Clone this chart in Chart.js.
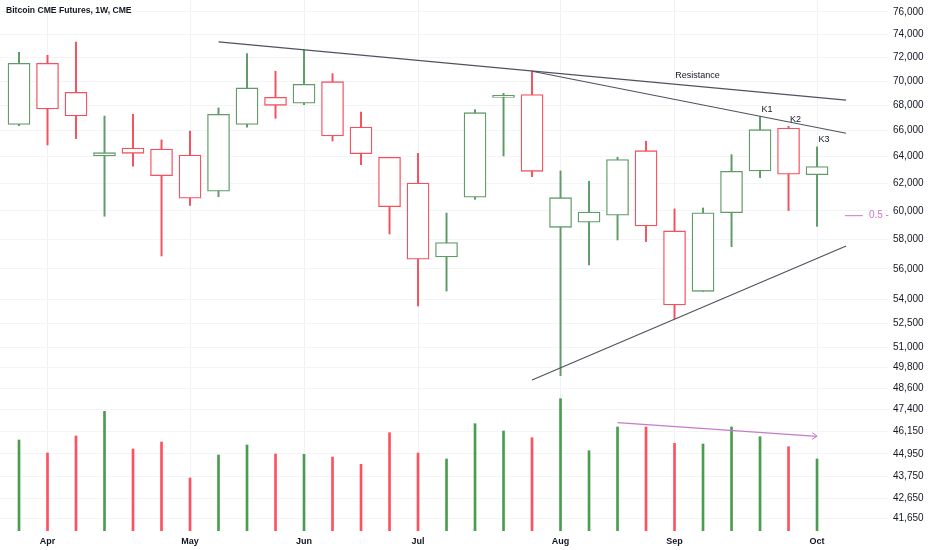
<!DOCTYPE html>
<html>
<head>
<meta charset="utf-8">
<script src="https://cdn.jsdelivr.net/npm/chart.js@4.4.1/dist/chart.umd.min.js"></script>
<style>
  html, body { margin: 0; padding: 0; background: #ffffff; }
  #wrap { width: 932px; height: 550px; }
</style>
</head>
<body>
<div id="wrap"><canvas id="btcChart" width="932" height="550"></canvas></div>
<script>
const chartTitle = 'Bitcoin CME Futures, 1W, CME';

// weekly bars, Monday of each week
const weeks = [
  '2024-03-25', '2024-04-01', '2024-04-08', '2024-04-15', '2024-04-22', '2024-04-29',
  '2024-05-06', '2024-05-13', '2024-05-20', '2024-05-27', '2024-06-03', '2024-06-10',
  '2024-06-17', '2024-06-24', '2024-07-01', '2024-07-08', '2024-07-15', '2024-07-22',
  '2024-07-29', '2024-08-05', '2024-08-12', '2024-08-19', '2024-08-26', '2024-09-02',
  '2024-09-09', '2024-09-16', '2024-09-23', '2024-09-30', '2024-10-07',
];
const opens = [66500, 71500, 69080, 64050, 64660, 64580, 64120, 61420, 66500, 68670, 68190, 69960, 66290, 63950, 62020,
  56800, 60980, 68670, 68890, 58840, 59200, 59690, 64450, 58590, 54530, 59870, 62920, 66210, 62640];
const highs = [72450, 72190, 73340, 67160, 67300, 65280, 65980, 67810, 72330, 70830, 72640, 70630, 67480, 63950, 64250,
  59850, 67670, 69000, 70830, 62920, 62150, 63950, 65180, 60140, 60210, 64150, 67110, 66350, 64740];
const lows = [66400, 64890, 65380, 59620, 63270, 56870, 60400, 61020, 66270, 66980, 68070, 65200, 63390, 58380, 53590,
  54550, 60830, 64050, 62490, 49330, 56270, 57960, 57850, 52770, 54530, 57500, 62420, 60020, 58910];
const closes = [71500, 67730, 67160, 64300, 64250, 62570, 60910, 67300, 69440, 68020, 69740, 65590, 64220, 60300, 56650,
  57780, 67430, 68720, 62890, 60950, 59920, 63770, 58940, 53650, 59870, 62890, 66080, 62670, 63240];
const volumes = [9100, 7800, 9500, 11970, 8200, 8900, 5300, 7600, 8600, 7700, 7670, 7400, 6670, 9830, 7800,
  7200, 10730, 10000, 9330, 13230, 8030, 10400, 10400, 8770, 8700, 10400, 9430, 8430, 7200];

const priceTicks = [76000, 74000, 72000, 70000, 68000, 66000, 64000, 62000, 60000, 58000, 56000, 54000,
  52500, 51000, 49800, 48600, 47400, 46150, 44950, 43750, 42650, 41650];
const monthNames = ['Jan', 'Feb', 'Mar', 'Apr', 'May', 'Jun', 'Jul', 'Aug', 'Sep', 'Oct', 'Nov', 'Dec'];

// drawings, in [bar index, price] / [bar index, volume]
const upperResistance = [[7, 73340], [29.02, 68450]];
const lowerResistance = [[18, 70830], [29.02, 65800]];
const supportLine = [[18, 49080], [29.02, 57550]];
const volumeTrend = [[21, 10830], [28, 9470]];
const resistanceLabel = [23.81, 70490];
const fibLevel = 59660;
const fibSpan = [28.98, 29.61];
const markedBars = [[26, 'K1'], [27, 'K2'], [28, 'K3']];

const GREEN = '#5f9a68';
const RED = '#f5505e';
const VOL_GREEN = '#4a9c4f';
const VOL_RED = '#ff5060';
const PURPLE = '#c67bc9';
const TEXT = '#131722';

const isUp = opens.map((o, i) => closes[i] >= o);
const idx = weeks.map((w, i) => i);

const monthTicks = [];
weeks.forEach((w, i) => {
  if (i > 0 && w.slice(5, 7) !== weeks[i - 1].slice(5, 7)) {
    monthTicks.push({ value: i, label: monthNames[parseInt(w.slice(5, 7), 10) - 1] });
  }
});

const fmt = (n) => String(n).replace(/\B(?=(\d{3})+(?!\d))/g, ',');
const toPts = (arr) => arr.map(([x, y]) => ({ x, y }));

const drawings = {
  id: 'drawings',
  afterDatasetsDraw(chart) {
    const { ctx, scales } = chart;
    const x = scales.x, y = scales.y, vol = scales.vol;
    ctx.save();
    ctx.textBaseline = 'middle';

    ctx.fillStyle = TEXT;
    ctx.font = 'bold 8.6px "Liberation Sans", Arial, sans-serif';
    ctx.textAlign = 'left';
    ctx.fillText(chartTitle, 6, 11);

    ctx.font = '9px "Liberation Sans", Arial, sans-serif';
    ctx.textAlign = 'center';
    ctx.fillText('Resistance', x.getPixelForValue(resistanceLabel[0]), y.getPixelForValue(resistanceLabel[1]));
    markedBars.forEach(([i, txt]) => {
      ctx.fillText(txt, x.getPixelForValue(i) + 7, y.getPixelForValue(highs[i]) - 7);
    });

    // fib level stub
    const fy = y.getPixelForValue(fibLevel);
    ctx.strokeStyle = PURPLE;
    ctx.lineWidth = 1;
    ctx.beginPath();
    ctx.moveTo(x.getPixelForValue(fibSpan[0]), fy);
    ctx.lineTo(x.getPixelForValue(fibSpan[1]), fy);
    ctx.stroke();
    ctx.fillStyle = PURPLE;
    ctx.font = '10px "Liberation Sans", Arial, sans-serif';
    ctx.textAlign = 'left';
    ctx.fillText('0.5 -', x.getPixelForValue(fibSpan[1]) + 6, fy);

    // arrow head on the volume trend
    const [a, b] = volumeTrend;
    const x1 = x.getPixelForValue(a[0]), y1 = vol.getPixelForValue(a[1]);
    const x2 = x.getPixelForValue(b[0]), y2 = vol.getPixelForValue(b[1]);
    const ang = Math.atan2(y2 - y1, x2 - x1);
    ctx.beginPath();
    ctx.moveTo(x2 - 6 * Math.cos(ang - 0.6), y2 - 6 * Math.sin(ang - 0.6));
    ctx.lineTo(x2, y2);
    ctx.lineTo(x2 - 6 * Math.cos(ang + 0.6), y2 - 6 * Math.sin(ang + 0.6));
    ctx.stroke();
    ctx.restore();
  },
};

const lineDs = (pts, color, axis) => ({
  type: 'line',
  data: toPts(pts),
  yAxisID: axis,
  borderColor: color,
  borderWidth: 1.2,
  pointRadius: 0,
  order: -1,
});

new Chart(document.getElementById('btcChart'), {
  type: 'bar',
  data: {
    datasets: [
      {
        data: idx.map((i) => ({ x: i, y: [opens[i], closes[i]] })),
        yAxisID: 'y',
        backgroundColor: '#ffffff',
        borderColor: idx.map((i) => (isUp[i] ? GREEN : RED)),
        borderWidth: 1.3,
        borderSkipped: false,
        barThickness: 22,
        minBarLength: 2,
        grouped: false,
        order: 0,
      },
      {
        data: idx.map((i) => ({ x: i, y: [lows[i], highs[i]] })),
        yAxisID: 'y',
        backgroundColor: idx.map((i) => (isUp[i] ? GREEN : RED)),
        borderWidth: 0,
        barThickness: 1.3,
        grouped: false,
        order: 1,
      },
      {
        data: idx.map((i) => ({ x: i, y: volumes[i] })),
        yAxisID: 'vol',
        backgroundColor: idx.map((i) => (isUp[i] ? VOL_GREEN : VOL_RED)),
        borderWidth: 0,
        barThickness: 2,
        grouped: false,
        order: 2,
      },
      lineDs(upperResistance, '#50535e', 'y'),
      lineDs(lowerResistance, '#50535e', 'y'),
      lineDs(supportLine, '#50535e', 'y'),
      lineDs(volumeTrend, PURPLE, 'vol'),
    ],
  },
  options: {
    responsive: false,
    animation: false,
    layout: { padding: 0 },
    plugins: { legend: { display: false }, tooltip: { enabled: false } },
    scales: {
      x: {
        type: 'linear',
        offset: false,
        min: -0.667,
        max: 30.49,
        border: { display: false },
        grid: { color: '#f0f1f3', drawTicks: false, offset: false },
        ticks: {
          autoSkip: false,
          maxRotation: 0,
          padding: 5,
          color: TEXT,
          font: { family: '"Liberation Sans", Arial, sans-serif', size: 9, weight: 'bold' },
          callback: (v, i) => (monthTicks[i] ? monthTicks[i].label : ''),
        },
        afterBuildTicks: (axis) => { axis.ticks = monthTicks.map((t) => ({ value: t.value })); },
        afterFit: (axis) => { axis.height = 19; axis.paddingLeft = 0; axis.paddingRight = 0; },
      },
      y: {
        type: 'logarithmic',
        position: 'right',
        min: 41015,
        max: 77091,
        border: { display: false },
        grid: { color: '#f3f4f6', drawTicks: false },
        ticks: {
          autoSkip: false,
          padding: 5,
          color: TEXT,
          font: { family: '"Liberation Sans", Arial, sans-serif', size: 10 },
          callback: (v) => fmt(v),
        },
        afterBuildTicks: (axis) => { axis.ticks = priceTicks.map((v) => ({ value: v })); },
        afterFit: (axis) => { axis.width = 44; axis.paddingTop = 0; axis.paddingBottom = 0; },
      },
      vol: {
        type: 'linear',
        display: false,
        min: 0,
        max: 53100,
      },
    },
  },
  plugins: [drawings],
});
</script>
</body>
</html>
